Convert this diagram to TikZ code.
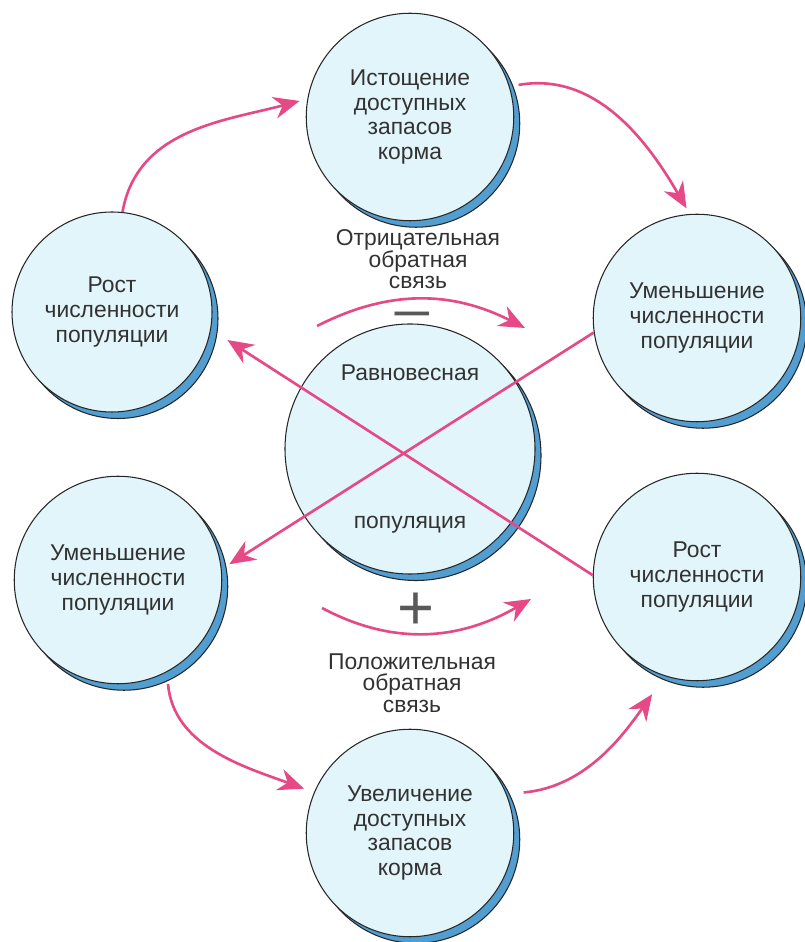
\documentclass[tikz,border=0pt]{standalone}
\usepackage{fontspec}
\setmainfont{Liberation Sans}
\usetikzlibrary{arrows.meta,shadows}

\definecolor{cfill}{RGB}{226,245,250}
\definecolor{cshade}{RGB}{82,158,208}
\definecolor{cpink}{RGB}{230,74,134}
\definecolor{ctext}{RGB}{50,50,50}

\tikzset{
    pop/.style={circle, draw=black!85, line width=0.6pt, fill=cfill, text=ctext,
        align=center, inner sep=0pt, minimum size=4.15cm,
        font=\fontsize{13}{14.2}\selectfont,
        general shadow={shadow xshift=1.2mm, shadow yshift=-1.3mm, fill=cshade, draw=black!85, line width=0.6pt}},
    flow/.style={draw=cpink, line width=1.5pt, -{Stealth[length=5.2mm, width=4.4mm, inset=1.7mm]}},
    lbl/.style={text=ctext, align=center, font=\fontsize{13}{12.3}\selectfont},
    sign/.style={text=black!65, inner sep=0pt, font=\fontsize{30}{30}\selectfont}
}

\begin{document}
\begin{tikzpicture}
        \useasboundingbox (0,0) rectangle (16.1,18.84);

        \node[pop, minimum size=5cm](EQ) at (8.2,9.86){Равновесная\\[2.45cm]популяция};

        \node[pop, above of=EQ, node distance=6.64cm](DEP){Истощение\\доступных\\запасов\\корма};
        \node[pop, below of=EQ, node distance=7.68cm](INC){Увеличение\\доступных\\запасов\\корма};

        \node[pop, minimum size=4cm, left of=EQ, node distance=5.96cm, yshift=2.74cm](GROW){Рост\\численности\\популяции};
        \node[pop, right of=EQ, node distance=5.74cm, yshift=2.62cm](DEC){Уменьшение\\численности\\популяции};
        \node[pop, left of=EQ, node distance=5.84cm, yshift=-2.62cm](DECL){Уменьшение\\численности\\популяции};
        \node[pop, right of=EQ, node distance=5.74cm, yshift=-2.56cm](GROWR){Рост\\численности\\популяции};

        % outer cycles
        \draw[flow, shorten >=1.6mm] (GROW.84) to[out=80, in=195] (DEP.170);
        \draw[flow, shorten <=1.8mm, shorten >=1.3mm] (DEP.17) to[out=10, in=120] (DEC.94);
        \draw[flow, shorten <=2.4mm, shorten >=2.1mm] (DECL.-62) to[out=-85, in=160] (INC.157);
        \draw[flow, shorten <=3.4mm, shorten >=4.4mm] (INC.22) to[out=5, in=-125] (GROWR.252);

        % cross
        \draw[flow, shorten >=3.9mm] (GROWR.179) -- (GROW.-10);
        \draw[flow, shorten >=1.8mm] (DEC.188) -- (DECL.6);

        % feedback
        \node[lbl](NEG) at (8.36,13.65){Отрицательная\\обратная\\связь};
        \node[sign](MINUS) at (8.24,12.4){\scalebox{1.35}[1]{−}};
        \coordinate (NEGs) at (6.34,12.32);
        \coordinate (NEGe) at (10.5,12.28);
        \draw[flow] (NEGs) to[out=27, in=153] (NEGe);

        \node[sign](PLUS) at (8.32,6.62){\scalebox{1.2}{+}};
        \node[lbl](POS) at (8.24,5.18){Положительная\\обратная\\связь};
        \coordinate (POSs) at (6.44,6.68);
        \coordinate (POSe) at (10.62,6.86);
        \draw[flow] (POSs) to[out=-28, in=-150] (POSe);
    \end{tikzpicture}
\end{document}
